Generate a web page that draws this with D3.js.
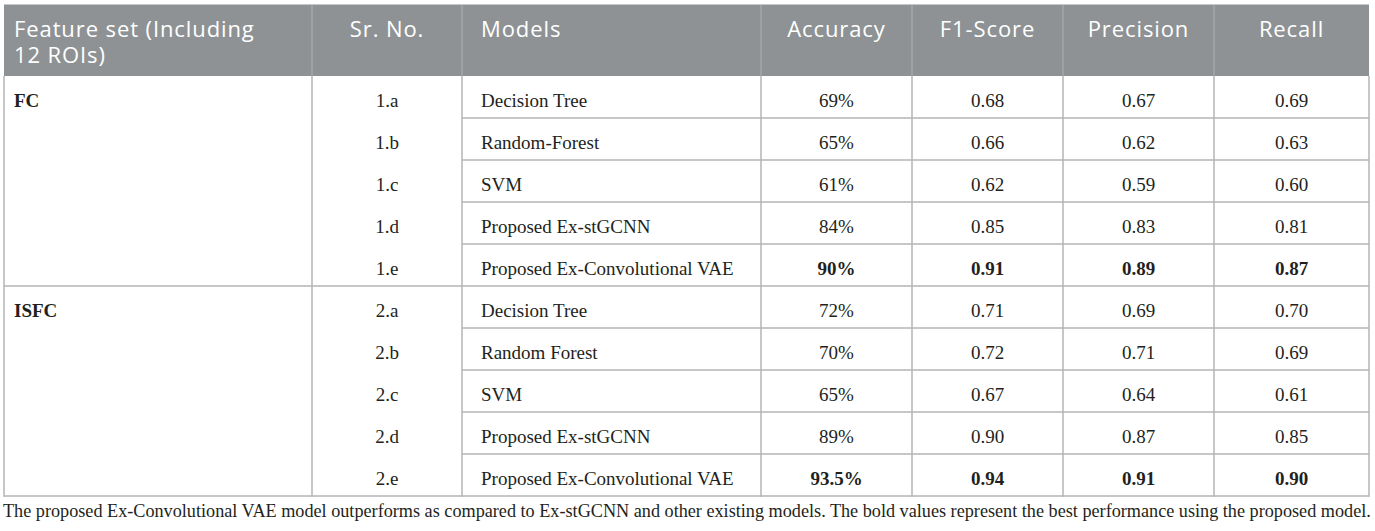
<!DOCTYPE html>
<html>
<head>
<meta charset="utf-8">
<script src="https://cdn.jsdelivr.net/npm/d3@7"></script>
<style>
  body { margin: 0; background: #fff; }
  svg { display: block; }
</style>
</head>
<body>
<div id="chart"></div>
<script>
// Table data
var headers = ["Feature set (Including|12 ROIs)", "Sr. No.", "Models", "Accuracy", "F1-Score", "Precision", "Recall"];
var groups = ["FC", "ISFC"];
var srNo = ["1.a", "1.b", "1.c", "1.d", "1.e", "2.a", "2.b", "2.c", "2.d", "2.e"];
var models = ["Decision Tree", "Random-Forest", "SVM", "Proposed Ex-stGCNN", "Proposed Ex-Convolutional VAE",
              "Decision Tree", "Random Forest", "SVM", "Proposed Ex-stGCNN", "Proposed Ex-Convolutional VAE"];
var accuracy = ["69%", "65%", "61%", "84%", "90%", "72%", "70%", "65%", "89%", "93.5%"];
var f1Score = [0.68, 0.66, 0.62, 0.85, 0.91, 0.71, 0.72, 0.67, 0.90, 0.94];
var precision = [0.67, 0.62, 0.59, 0.83, 0.89, 0.69, 0.71, 0.64, 0.87, 0.91];
var recall = [0.69, 0.63, 0.60, 0.81, 0.87, 0.70, 0.69, 0.61, 0.85, 0.90];
var bestRows = [4, 9];
var caption = "The proposed Ex-Convolutional VAE model outperforms as compared to Ex-stGCNN and other existing models. The bold values represent the best performance using the proposed model.";

var width = 1375, height = 531;
var colEdges = [4, 312, 462, 761, 912, 1063, 1214, 1369];
var headTop = 4, headBottom = 76, tableBottom = 496;
var rowsPerGroup = 5;

var svg = d3.select("#chart").append("svg")
    .attr("width", width)
    .attr("height", height);

// Row scale
var y = d3.scaleBand()
    .domain(d3.range(srNo.length))
    .range([headBottom, tableBottom]);

var serif = "'Liberation Serif', 'Times New Roman', serif";
var sans = "'Open Sans', 'Noto Sans', sans-serif";
var lineColor = "#b4b4b4";

// Header
svg.append("rect")
    .attr("x", colEdges[0]).attr("y", headTop)
    .attr("width", colEdges[7] - colEdges[0]).attr("height", headBottom - headTop)
    .attr("fill", "#8e9294");
svg.append("line")
    .attr("x1", colEdges[0]).attr("x2", colEdges[7])
    .attr("y1", headTop + 0.5).attr("y2", headTop + 0.5)
    .attr("stroke", "#c4c6c7").attr("stroke-width", 1);

svg.selectAll(".hsep")
    .data(colEdges.slice(1, 7))
    .enter().append("line")
    .attr("x1", d => d).attr("x2", d => d)
    .attr("y1", headTop + 1).attr("y2", headBottom)
    .attr("stroke", "#a9adaf").attr("stroke-width", 1.2);

function colX(i, align) {
    if (align === "start") return colEdges[i] + (i === 0 ? 10 : 19);
    return (colEdges[i] + colEdges[i + 1]) / 2;
}
var headAlign = ["start", "middle", "start", "middle", "middle", "middle", "middle"];

headers.forEach(function(h, i) {
    var t = svg.append("text")
        .attr("x", colX(i, headAlign[i]))
        .attr("y", 37)
        .attr("text-anchor", headAlign[i])
        .attr("font-family", sans)
        .attr("font-size", 22)
        .attr("letter-spacing", 0.9)
        .attr("fill", "#ffffff");
    h.split("|").forEach(function(line, k) {
        t.append("tspan")
            .attr("x", colX(i, headAlign[i]))
            .attr("dy", k === 0 ? 0 : 26)
            .text(line);
    });
});

// Body rows
var rows = d3.range(srNo.length).map(function(i) {
    return [null, srNo[i], models[i], accuracy[i], f1Score[i].toFixed(2), precision[i].toFixed(2), recall[i].toFixed(2)];
});

var rowG = svg.selectAll(".row")
    .data(rows)
    .enter().append("g")
    .attr("class", "row")
    .attr("transform", (d, i) => `translate(0, ${y(i)})`);

rowG.selectAll("text")
    .data((d, i) => d.map((v, c) => ({ v: v, c: c, r: i })).filter(o => o.v !== null))
    .enter().append("text")
    .attr("x", o => colX(o.c, o.c === 2 ? "start" : "middle"))
    .attr("y", 31)
    .attr("text-anchor", o => o.c === 2 ? "start" : "middle")
    .attr("font-family", serif)
    .attr("font-size", 19)
    .attr("font-weight", o => (o.c >= 3 && bestRows.indexOf(o.r) >= 0) ? "bold" : "normal")
    .attr("fill", "#231f20")
    .text(o => o.v);

// Group labels
svg.selectAll(".group")
    .data(groups)
    .enter().append("text")
    .attr("x", colX(0, "start"))
    .attr("y", (d, i) => y(i * rowsPerGroup) + 31)
    .attr("font-family", serif)
    .attr("font-size", 19)
    .attr("font-weight", "bold")
    .attr("fill", "#231f20")
    .text(d => d);

// Grid lines: inner row lines only from Models column on
var inner = d3.range(1, srNo.length).filter(i => i % rowsPerGroup !== 0);
svg.selectAll(".rline")
    .data(inner)
    .enter().append("line")
    .attr("x1", colEdges[2]).attr("x2", colEdges[7])
    .attr("y1", d => y(d)).attr("y2", d => y(d))
    .attr("stroke", lineColor).attr("stroke-width", 1.5);

// Group boundaries and bottom line across full width
svg.selectAll(".gline")
    .data([rowsPerGroup, srNo.length])
    .enter().append("line")
    .attr("x1", colEdges[0]).attr("x2", colEdges[7])
    .attr("y1", d => d === srNo.length ? tableBottom : y(d))
    .attr("y2", d => d === srNo.length ? tableBottom : y(d))
    .attr("stroke", lineColor).attr("stroke-width", 1.5);

// Vertical body lines
svg.selectAll(".vline")
    .data(colEdges)
    .enter().append("line")
    .attr("x1", d => d).attr("x2", d => d)
    .attr("y1", headBottom).attr("y2", tableBottom + 0.75)
    .attr("stroke", lineColor).attr("stroke-width", 1.5);

// Caption
svg.append("text")
    .attr("x", 3)
    .attr("y", 517)
    .attr("font-family", serif)
    .attr("font-size", 18.2)
    .attr("fill", "#231f20")
    .text(caption);
</script>
</body>
</html>
